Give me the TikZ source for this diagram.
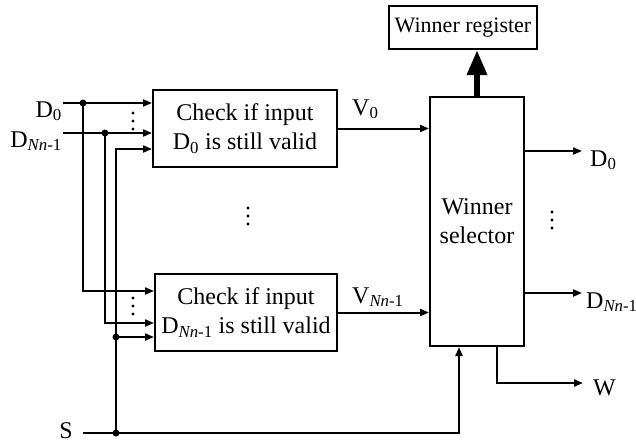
\documentclass[tikz,border=0pt]{standalone}
\usepackage{fontspec}
\setmainfont{Liberation Serif}
\usepackage{tikz}
\usetikzlibrary{arrows.meta, positioning, calc}

\tikzset{
  blk/.style={draw, line width=2pt, align=center, inner sep=0pt, font=\fontsize{24}{29}\selectfont},
  wire/.style={line width=2pt},
  arr/.style={wire, -{Triangle[length=9pt, width=7pt]}},
  bigarr/.style={line width=6pt, -{Triangle[length=25pt, width=19pt]}},
  jdot/.style={circle, fill, inner sep=0pt, minimum size=7pt},
  lbl/.style={inner sep=0pt, font=\fontsize{24}{29}\selectfont},
}
\newcommand{\threedots}[1]{\foreach \k in {0,1,2} {\fill ($#1+(0,8*\k)$) circle (1.6pt);}}

\begin{document}
\begin{tikzpicture}[x=1pt, y=-1pt]
  \useasboundingbox (0,0) rectangle (636,444);

  % Blocks
  \node[blk, minimum width=148, minimum height=43, font=\fontsize{22}{26}\selectfont] (reg) at (463,27.5) {Winner register};
  \node[blk, minimum width=94, minimum height=249] (sel) at (477,221.5) {Winner\\selector};
  \node[blk, minimum width=184, minimum height=77] (chk0) at (245,128.5) {Check if input\\D\textsubscript{0} is still valid};
  \node[blk, minimum width=182, minimum height=77] (chkN) at (246,312.5) {Check if input\\D\textsubscript{\textit{Nn}-1} is still valid};

  % Input labels and wire starts
  \node[lbl, anchor=base east] (inD0) at (62,117) {D\textsubscript{0}};
  \node[lbl, anchor=base east] (inDN) at (62,147) {D\textsubscript{\textit{Nn}-1}};
  \node[lbl, anchor=base east] (inS) at (73,438) {S};
  \coordinate (d0s) at (63,103);
  \coordinate (dNs) at (63,133);
  \coordinate (sS) at (83,433);

  % Junctions on the buses
  \node[jdot] (j0) at (83,103) {};
  \node[jdot] (jN) at (105,133) {};
  \node[jdot] (jS) at (116,433) {};
  \node[jdot] (jS2) at (116,337) {};

  % D0 bus
  \draw[arr] (d0s) -- (d0s -| chk0.west);
  \coordinate (b0) at (83,291);
  \draw[arr] (j0.center) -- (b0) -- (b0 -| chkN.west);

  % DNn-1 bus
  \draw[arr] (dNs) -- (dNs -| chk0.west);
  \coordinate (bN) at (105,323);
  \draw[arr] (jN.center) -- (bN) -- (bN -| chkN.west);

  % S bus
  \coordinate (bS) at (116,149);
  \draw[arr] (jS.center) -- (bS) -- (bS -| chk0.west);
  \draw[arr] (jS2.center) -- (jS2 -| chkN.west);
  \coordinate (sk) at (459,433);
  \draw[arr] (sS) -- (sk) -- (sk |- sel.south);

  \threedots{(133,113)}
  \threedots{(133,298)}
  \threedots{(248,208)}

  % Valid flags
  \draw[arr] (chk0.east) -- (chk0.east -| sel.west);
  \draw[arr] (chkN.east) -- (chkN.east -| sel.west);
  \node[lbl, anchor=base west] (v0) at (352,115) {V\textsubscript{0}};
  \node[lbl, anchor=base west] (vN) at (352,303) {V\textsubscript{\textit{Nn}-1}};

  % Winner register
  \draw[bigarr] (sel.north) -- (sel.north |- reg.south);

  % Outputs
  \coordinate (oD0) at (582,151);
  \coordinate (oDN) at (582,293);
  \draw[arr] (oD0 -| sel.east) -- (oD0);
  \draw[arr] (oDN -| sel.east) -- (oDN);
  \node[lbl, anchor=base west] (outD0) at (590,166) {D\textsubscript{0}};
  \node[lbl, anchor=base west] (outDN) at (586,308) {D\textsubscript{\textit{Nn}-1}};
  \threedots{(552,212)}

  \coordinate (wk) at (497,383);
  \coordinate (oW) at (583,383);
  \draw[arr] (wk |- sel.south) -- (wk) -- (oW);
  \node[lbl, anchor=base west] (outW) at (593,395) {W};
\end{tikzpicture}
\end{document}
